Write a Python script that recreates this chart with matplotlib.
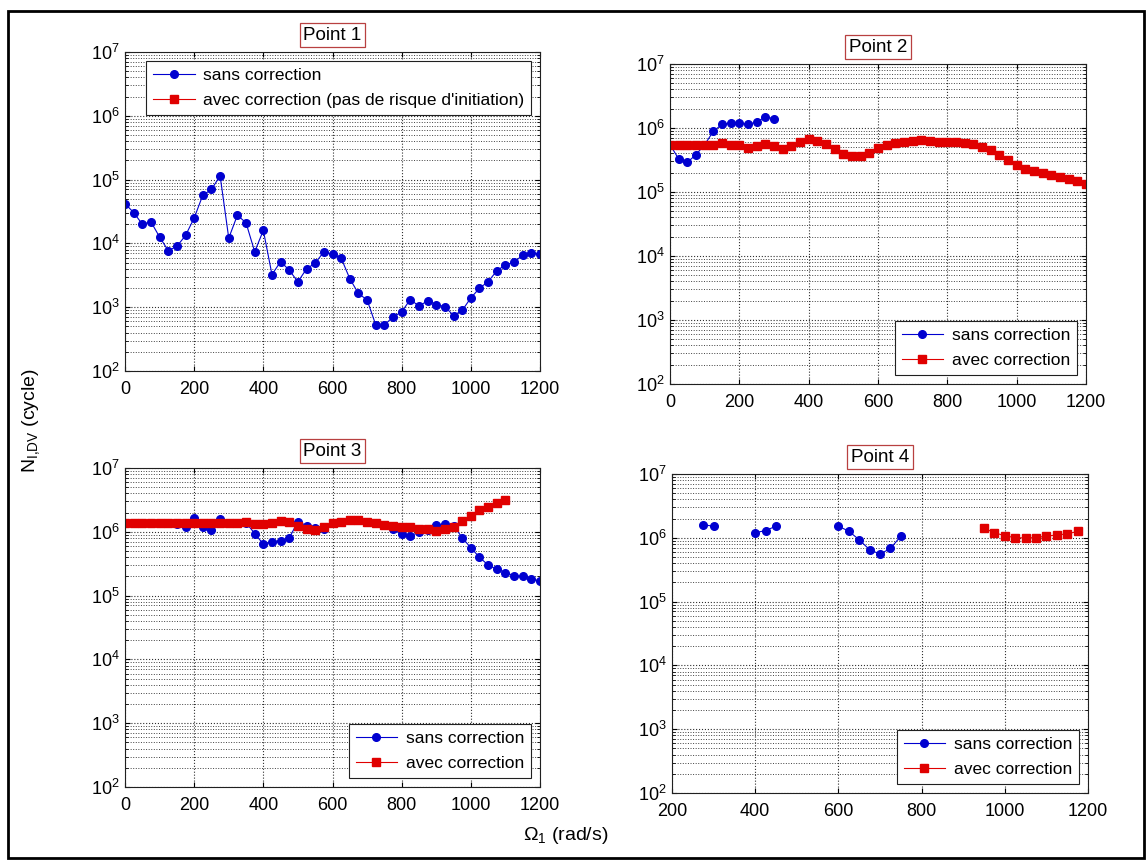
import numpy as np
import matplotlib
matplotlib.use("Agg")
import matplotlib.pyplot as plt
from matplotlib.patches import Rectangle
from matplotlib.ticker import LogLocator, NullFormatter, MultipleLocator

plt.rcParams['font.family'] = ['Liberation Sans', 'DejaVu Sans']
plt.rcParams['mathtext.fontset'] = 'custom'
plt.rcParams['mathtext.rm'] = 'Liberation Sans'
plt.rcParams['mathtext.it'] = 'Liberation Sans:italic'

# ---------------- DATA ----------------
NAN = np.nan

# Point 1 : 0..1200 step 25
p1_x = list(range(0, 1225, 25))
p1_sans = [42000, 30500, 20000, 21800, 12600, 7700, 9000, 13300, 25000, 57000,
           70000, 115000, 12100, 27700, 21000, 7400, 16000, 3240, 5200, 3800,
           2500, 4000, 4900, 7400, 6700, 5900, 2800, 1640, 1300, 530,
           530, 700, 845, 1320, 1040, 1260, 1100, 1020, 740, 890,
           1400, 1980, 2520, 3700, 4640, 5050, 6580, 7150, 6730]

# Point 2
p2_x_sans = list(range(0, 325, 25))
p2_sans = [550000, 328000, 291000, 383000, 550000, 887000, 1140000, 1200000,
           1200000, 1140000, 1240000, 1490000, 1400000]
p2_x_avec = list(range(0, 1225, 25))
p2_avec = [550000, 550000, 550000, 550000, 550000, 550000, 576000, 536000, 536000, 493000,
           524000, 562000, 517000, 476000, 517000, 604000, 681000, 627000, 562000, 470000,
           393000, 361000, 361000, 412000, 488000, 542000, 576000, 604000, 619000, 649000,
           627000, 611000, 604000, 604000, 583000, 562000, 511000, 458000, 378000, 316000,
           267000, 229000, 210000, 196000, 187000, 174000, 162000, 150000, 133000]

# Point 3
p3_x_sans = list(range(0, 1225, 25))
p3_sans = [1370000, 1360000, 1360000, 1360000, 1350000, 1350000, 1330000, 1200000, 1630000, 1170000,
           1060000, 1560000, 1380000, 1380000, 1390000, 940000, 640000, 698000, 730000, 800000,
           1450000, 1250000, 1150000, 1100000, 1350000, 1450000, 1520000, 1520000, 1450000, 1350000,
           1300000, 1100000, 920000, 870000, 980000, 1070000, 1290000, 1330000, 1250000, 810000,
           560000, 400000, 300000, 260000, 230000, 205000, 200000, 182000, 170000]
p3_x_avec = list(range(0, 1125, 25))
p3_avec = [1370000, 1360000, 1360000, 1360000, 1350000, 1350000, 1370000, 1360000, 1360000, 1380000,
           1360000, 1360000, 1360000, 1360000, 1400000, 1310000, 1310000, 1380000, 1500000, 1450000,
           1240000, 1120000, 1070000, 1190000, 1350000, 1450000, 1520000, 1520000, 1450000, 1350000,
           1280000, 1240000, 1210000, 1170000, 1120000, 1110000, 1040000, 1110000, 1190000, 1460000,
           1750000, 2180000, 2480000, 2800000, 3150000]

# Point 4 (gaps = no value)
p4_x_sans = [275, 300, 325, 400, 425, 450, 475, 600, 625, 650, 675, 700, 725, 750]
p4_sans = [1600000, 1520000, NAN, 1200000, 1300000, 1520000, NAN,
           1520000, 1270000, 930000, 650000, 556000, 680000, 1060000]
p4_x_avec = [950, 975, 1000, 1025, 1050, 1075, 1100, 1125, 1150, 1175]
p4_avec = [1400000, 1210000, 1070000, 1010000, 990000, 1010000, 1060000, 1110000, 1150000, 1260000]

titles = ["Point 1", "Point 2", "Point 3", "Point 4"]
lab_sans = "sans correction"
lab_avec = "avec correction"
lab_avec_1 = "avec correction (pas de risque d'initiation)"

# ---------------- STYLE ----------------
BLUE = '#0000d0'
RED = '#e00000'
FS = 13

fig = plt.figure(figsize=(11.47, 8.61), dpi=100)

# axes boxes in pixel coords (left, top, right, bottom)
W, H = 1147, 861
boxes = [(125, 52, 540, 371), (670, 64, 1086, 384),
         (125, 468, 540, 787), (672, 474, 1088, 793)]
axes = []
for (l, t, r, b) in boxes:
    axes.append(fig.add_axes([l / W, 1 - b / H, (r - l) / W, (b - t) / H]))


def style_axis(ax, xlim):
    ax.set_yscale('log')
    ax.set_ylim(1e2, 1e7)
    ax.set_xlim(*xlim)
    ax.xaxis.set_major_locator(MultipleLocator(200))
    ax.yaxis.set_major_locator(LogLocator(base=10, numticks=10))
    ax.yaxis.set_minor_locator(LogLocator(base=10, subs=np.arange(2, 10), numticks=20))
    ax.yaxis.set_minor_formatter(NullFormatter())
    ax.grid(True, which='major', linestyle=':', color='#303030', linewidth=0.8)
    ax.grid(True, which='minor', axis='y', linestyle=':', color='#404040', linewidth=0.7)
    ax.tick_params(which='both', direction='in', top=True, right=True, labelsize=FS)
    ax.tick_params(axis='x', pad=7)
    ax.tick_params(axis='y', pad=4)
    ax.tick_params(which='minor', length=2)
    for s in ax.spines.values():
        s.set_linewidth(0.8)
        s.set_color('#202020')


def draw(ax, x, y, kind, label):
    if kind == 'sans':
        ax.plot(x, y, '-o', color=BLUE, lw=0.8, ms=5.5, mfc=BLUE, mec=BLUE, label=label)
    else:
        ax.plot(x, y, '-s', color=RED, lw=0.8, ms=5.5, mfc=RED, mec=RED, label=label)


# Point 1
ax = axes[0]
draw(ax, p1_x, p1_sans, 'sans', lab_sans)
ax.plot([], [], '-s', color=RED, lw=0.8, ms=5.5, label=lab_avec_1)
style_axis(ax, (0, 1200))
leg_loc = ['upper right', 'lower right', 'lower right', 'lower right']

# Point 2
draw(axes[1], p2_x_sans, p2_sans, 'sans', lab_sans)
draw(axes[1], p2_x_avec, p2_avec, 'avec', lab_avec)
style_axis(axes[1], (0, 1200))

# Point 3
draw(axes[2], p3_x_sans, p3_sans, 'sans', lab_sans)
draw(axes[2], p3_x_avec, p3_avec, 'avec', lab_avec)
style_axis(axes[2], (0, 1200))

# Point 4
draw(axes[3], p4_x_sans, p4_sans, 'sans', lab_sans)
draw(axes[3], p4_x_avec, p4_avec, 'avec', lab_avec)
style_axis(axes[3], (200, 1200))

for ax, title, loc in zip(axes, titles, leg_loc):
    ax.set_title(title, fontsize=13.5, pad=9,
                 bbox=dict(facecolor='white', edgecolor='#b84040', linewidth=0.9, pad=2.5))
    leg = ax.legend(loc=loc, fontsize=12.5, fancybox=False, framealpha=1,
                    edgecolor='#202020', handlelength=2.4, borderaxespad=0.5,
                    handletextpad=0.5, labelspacing=0.6)
    leg.get_frame().set_linewidth(0.8)

fig.text(0.027, 0.512, r'N$_{\mathrm{I{,}DV}}$ (cycle)', rotation=90,
         ha='center', va='center', fontsize=14)
fig.text(0.493, 0.03, r'$\Omega_{\mathrm{1}}$ (rad/s)', ha='center', va='center', fontsize=14)

# outer frame
fig.patches.append(Rectangle((8 / W, 3 / H), (1144 - 8) / W, (858 - 11) / H,
                             transform=fig.transFigure, fill=False,
                             edgecolor='black', linewidth=2))

fig.savefig('out.png', dpi=100)
